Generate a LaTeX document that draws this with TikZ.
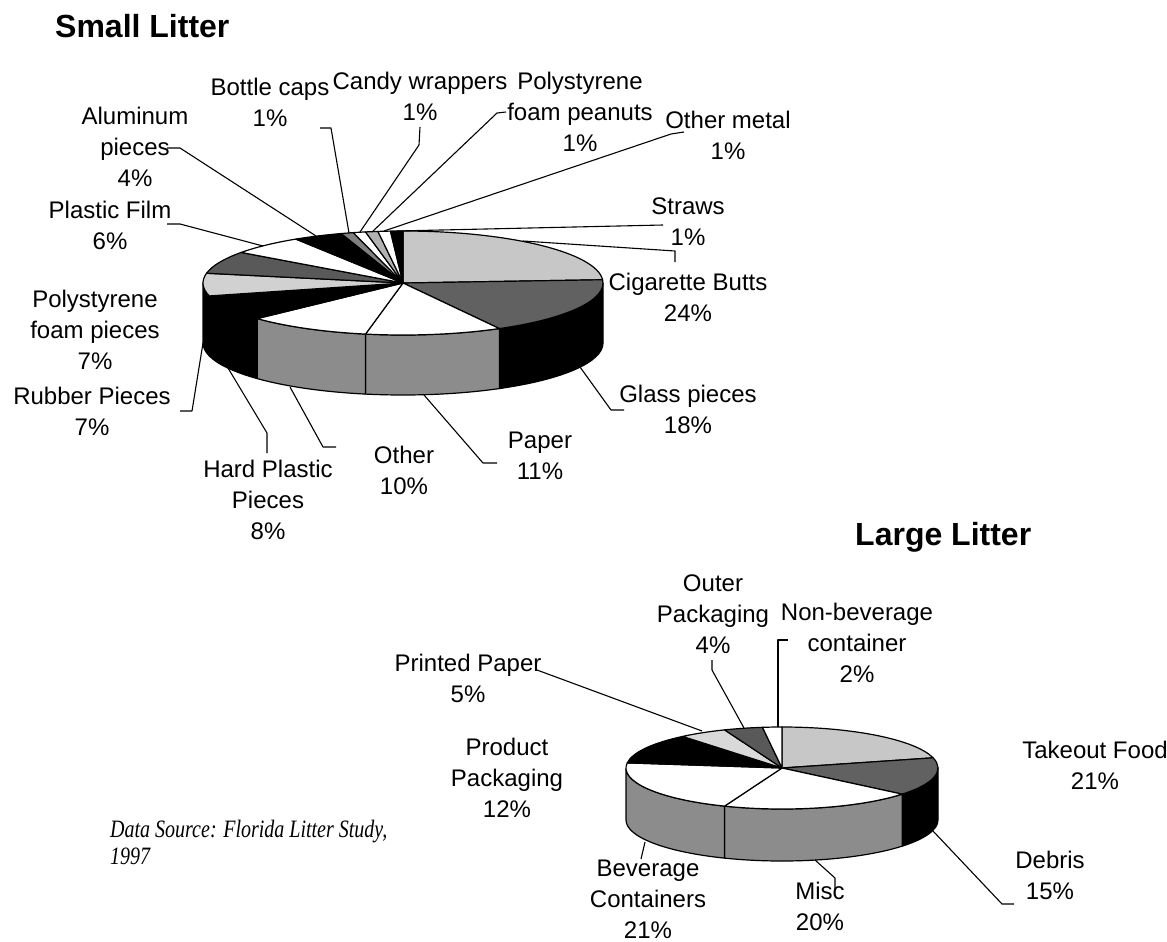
\documentclass[tikz,border=0pt]{standalone}
\usepackage{fontspec}
\setmainfont{Liberation Sans}
\newfontfamily\srcfont[FakeStretch=0.8]{Liberation Serif}
\usetikzlibrary{calc}
\newcommand\pietop[6]{\filldraw[slice, fill=#6] (#1) -- ($(#1)+(#4:#2 and #3)$) arc[start angle=#4, end angle=#5, x radius=#2, y radius=#3] -- cycle;}
\newcommand\pieside[7]{\filldraw[slice, fill=#7] ($(#1)+(#4:#2 and #3)$) arc[start angle=#4, end angle=#5, x radius=#2, y radius=#3] -- ++(0,#6) arc[start angle=#5, end angle=#4, x radius=#2, y radius=#3] -- cycle;}
\begin{document}
\begin{tikzpicture}[x=1pt,y=-1pt,
  lbl/.style={font=\fontsize{24}{31}\selectfont, align=center, inner sep=0pt},
  ttl/.style={font=\fontsize{32}{38}\selectfont\bfseries, inner sep=0pt, anchor=base west},
  ldr/.style={line width=1.1pt, line join=round},
  slice/.style={draw=black, line width=1.2pt, line join=round},
]
\useasboundingbox (0,0) rectangle (1167,942);
\fill[white] (0,0) rectangle (1167,942);

% ---------- Titles ----------
\node[ttl] (tsmall) at (55,38) {Small Litter};
\node[ttl] (tlarge) at (855,545) {Large Litter};
\node[anchor=north west, inner sep=0pt, align=left,
      font=\srcfont\itshape\fontsize{25}{27}\selectfont] (src) at (110,820)
      {Data Source: Florida Litter Study,\\1997};

% ---------- Small pie ----------
\coordinate (S) at (403,283);
\pieside{S}{200}{52}{0}{61.2}{60}{black}
\pieside{S}{200}{52}{61.2}{100.8}{60}{black!45}
\pieside{S}{200}{52}{100.8}{136.8}{60}{black!45}
\pieside{S}{200}{52}{136.8}{165.6}{60}{black}
\pieside{S}{200}{52}{165.6}{180}{60}{black}
\pietop{S}{200}{52}{-90}{-3.6}{black!22}
\pietop{S}{200}{52}{-3.6}{61.2}{black!62}
\pietop{S}{200}{52}{61.2}{100.8}{white}
\pietop{S}{200}{52}{100.8}{136.8}{white}
\pietop{S}{200}{52}{136.8}{165.6}{black}
\pietop{S}{200}{52}{165.6}{190.8}{black!18}
\pietop{S}{200}{52}{190.8}{216}{black!65}
\pietop{S}{200}{52}{216}{237.6}{white}
\pietop{S}{200}{52}{237.6}{252}{black}
\pietop{S}{200}{52}{252}{255.6}{black!50}
\pietop{S}{200}{52}{255.6}{259.2}{white}
\pietop{S}{200}{52}{259.2}{262.8}{black!30}
\pietop{S}{200}{52}{262.8}{266.4}{white}
\pietop{S}{200}{52}{266.4}{270}{black}

% small pie labels
\node[lbl] (lal) at (135,147) {Aluminum\\pieces\\4\%};
\node[lbl] (lbc) at (270,102) {Bottle caps\\1\%};
\node[lbl] (lcw) at (420,96) {Candy wrappers\\1\%};
\node[lbl] (lpp) at (580,112) {Polystyrene\\foam peanuts\\1\%};
\node[lbl] (lom) at (728,135) {Other metal\\1\%};
\node[lbl] (lst) at (688,222) {Straws\\1\%};
\node[lbl] (lcb) at (688,297) {Cigarette Butts\\24\%};
\node[lbl] (lpf) at (110,225) {Plastic Film\\6\%};
\node[lbl] (lps) at (95,330) {Polystyrene\\foam pieces\\7\%};
\node[lbl] (lrp) at (92,411) {Rubber Pieces\\7\%};
\node[lbl] (lhp) at (268,500) {Hard Plastic\\Pieces\\8\%};
\node[lbl] (lot) at (404,470) {Other\\10\%};
\node[lbl] (lpa) at (540,456) {Paper\\11\%};
\node[lbl] (lgp) at (688,409) {Glass pieces\\18\%};

% small pie leader points
\coordinate (al1) at (167,148); \coordinate (al2) at (180,148); \coordinate (al3) at (316,236);
\coordinate (bc1) at (320,128); \coordinate (bc2) at (331,128); \coordinate (bc3) at (349,233);
\coordinate (cw1) at (420,127); \coordinate (cw2) at (419,145); \coordinate (cw3) at (360,232);
\coordinate (pp1) at (506,112); \coordinate (pp2) at (497,113); \coordinate (pp3) at (372,232);
\coordinate (om1) at (684,132); \coordinate (om2) at (671,134); \coordinate (om3) at (384,231);
\coordinate (st1) at (663,225); \coordinate (st2) at (397,231);
\coordinate (cb1) at (523,241); \coordinate (cb2) at (675,251); \coordinate (cb3) at (675,262);
\coordinate (pf1) at (167,224); \coordinate (pf2) at (180,224); \coordinate (pf3) at (263,246);
\coordinate (rp1) at (180,411); \coordinate (rp2) at (192,411); \coordinate (rp3) at (203,343);
\coordinate (hp1) at (267,453); \coordinate (hp2) at (267,433); \coordinate (hp3) at (228,368);
\coordinate (ot1) at (336,447); \coordinate (ot2) at (323,447); \coordinate (ot3) at (290,387);
\coordinate (pa1) at (497,463); \coordinate (pa2) at (483,463); \coordinate (pa3) at (424,395);
\coordinate (gp1) at (624,410); \coordinate (gp2) at (611,410); \coordinate (gp3) at (580,367);

\draw[ldr] (al1) -- (al2) -- (al3);
\draw[ldr] (bc1) -- (bc2) -- (bc3);
\draw[ldr] (cw1) -- (cw2) -- (cw3);
\draw[ldr] (pp1) -- (pp2) -- (pp3);
\draw[ldr] (om1) -- (om2) -- (om3);
\draw[ldr] (st1) -- (st2);
\draw[ldr] (cb1) -- (cb2) -- (cb3);
\draw[ldr] (pf1) -- (pf2) -- (pf3);
\draw[ldr] (rp1) -- (rp2) -- (rp3);
\draw[ldr] (hp1) -- (hp2) -- (hp3);
\draw[ldr] (ot1) -- (ot2) -- (ot3);
\draw[ldr] (pa1) -- (pa2) -- (pa3);
\draw[ldr] (gp1) -- (gp2) -- (gp3);

% ---------- Large pie ----------
\coordinate (L) at (782,768);
\pieside{L}{156}{41}{0}{39.6}{52}{black}
\pieside{L}{156}{41}{39.6}{111.6}{52}{black!45}
\pieside{L}{156}{41}{111.6}{180}{52}{black!45}
\pietop{L}{156}{41}{-90}{-14.4}{black!22}
\pietop{L}{156}{41}{-14.4}{39.6}{black!62}
\pietop{L}{156}{41}{39.6}{111.6}{white}
\pietop{L}{156}{41}{111.6}{187.2}{white}
\pietop{L}{156}{41}{187.2}{230.4}{black}
\pietop{L}{156}{41}{230.4}{248.4}{black!15}
\pietop{L}{156}{41}{248.4}{262.8}{black!65}
\pietop{L}{156}{41}{262.8}{270}{white}

% large pie labels
\node[lbl] (lop) at (713,614) {Outer\\Packaging\\4\%};
\node[lbl] (lnb) at (857,643) {Non-beverage\\container\\2\%};
\node[lbl] (lpr) at (468,678) {Printed Paper\\5\%};
\node[lbl] (lpk) at (507,778) {Product\\Packaging\\12\%};
\node[lbl] (ltf) at (1095,765) {Takeout Food\\21\%};
\node[lbl] (ldb) at (1050,875) {Debris\\15\%};
\node[lbl] (lms) at (820,906) {Misc\\20\%};
\node[lbl] (lbv) at (648,899) {Beverage\\Containers\\21\%};

% large pie leader points
\coordinate (pr1) at (537,670); \coordinate (pr2) at (702,731);
\coordinate (op1) at (712,660); \coordinate (op2) at (712,670); \coordinate (op3) at (744,728);
\coordinate (nb1) at (788,640); \coordinate (nb2) at (778,640); \coordinate (nb3) at (778,727);
\coordinate (db1) at (933,831); \coordinate (db2) at (1002,904); \coordinate (db3) at (1014,904);
\coordinate (ms1) at (815,860); \coordinate (ms2) at (835,878); \coordinate (ms3) at (835,890);
\coordinate (bv1) at (645,842); \coordinate (bv2) at (641,859);

\draw[ldr] (pr1) -- (pr2);
\draw[ldr] (op1) -- (op2) -- (op3);
\draw[ldr] (nb1) -- (nb2) -- (nb3);
\draw[ldr] (db1) -- (db2) -- (db3);
\draw[ldr] (ms1) -- (ms2) -- (ms3);
\draw[ldr] (bv1) -- (bv2);
\end{tikzpicture}
\end{document}
